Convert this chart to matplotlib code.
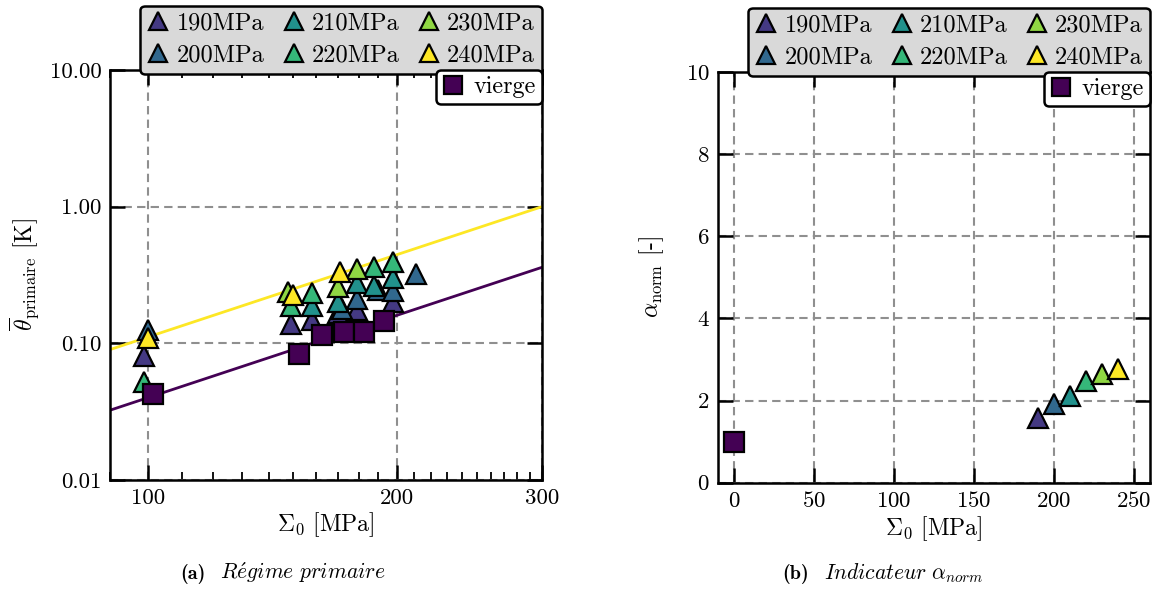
import numpy as np
import matplotlib
matplotlib.use("Agg")
import matplotlib.pyplot as plt
from matplotlib.ticker import FixedLocator, FixedFormatter, NullFormatter, NullLocator
from matplotlib.lines import Line2D

plt.rcParams['font.family'] = ['cmr10', 'DejaVu Serif']
plt.rcParams['mathtext.fontset'] = 'cm'
plt.rcParams['axes.formatter.use_mathtext'] = True
plt.rcParams['axes.unicode_minus'] = False

# ---------------- data ----------------
series_labels = ['190MPa', '200MPa', '210MPa', '220MPa', '230MPa', '240MPa']
series_colors = ['#443983', '#31688e', '#21918c', '#35b779', '#90d743', '#fde725']
vierge_color = '#440154'

# (a) Regime primaire : Sigma_0 [MPa] and theta_primaire [K] per series
s190_x = [99, 149, 158, 170, 179, 198]
s190_y = [0.081, 0.139, 0.147, 0.166, 0.176, 0.202]
s200_x = [100, 172, 179, 190, 198, 211]
s200_y = [0.125, 0.177, 0.211, 0.245, 0.242, 0.321]
s210_x = [158, 170, 179, 188, 198]
s210_y = [0.186, 0.202, 0.275, 0.264, 0.299]
s220_x = [99, 149, 158, 188, 198]
s220_y = [0.052, 0.188, 0.235, 0.364, 0.396]
s230_x = [148, 170, 179]
s230_y = [0.239, 0.260, 0.352]
s240_x = [100, 150, 171]
s240_y = [0.110, 0.226, 0.335]
vierge_x = [101.5, 152.4, 162.7, 172.6, 182.9, 193.1]
vierge_y = [0.0427, 0.0837, 0.115, 0.1204, 0.122, 0.1466]

# power-law fits theta = a * (Sigma/300)^b
fit_240 = (1.00, 2.0)
fit_vierge = (0.36, 2.0)

# (b) Indicateur alpha_norm
alpha_sigma = [190, 200, 210, 220, 230, 240]
alpha_vals = [1.58, 1.91, 2.10, 2.48, 2.64, 2.76]
alpha_vierge_sigma = [0]
alpha_vierge = [1.0]

series_x = [s190_x, s200_x, s210_x, s220_x, s230_x, s240_x]
series_y = [s190_y, s200_y, s210_y, s220_y, s230_y, s240_y]

# ---------------- figure ----------------
W, H = 1157, 590
fig = plt.figure(figsize=(W / 100, H / 100), dpi=100)
axL = fig.add_axes([110 / W, (H - 480) / H, 432 / W, 410 / H])
axR = fig.add_axes([718 / W, (H - 482.7) / H, 432 / W, 410.7 / H])

FS = 16.5
LFS = 17.5
MS = 15
MEW = 1.6
grid_kw = dict(color='#8f8f8f', linestyle=(0, (4, 2.5)), linewidth=1.5)

def style_axes(ax):
    for sp in ax.spines.values():
        sp.set_linewidth(1.8)
    ax.tick_params(which='major', direction='in', length=11, width=1.8,
                   top=True, right=True, labelsize=FS, pad=6)
    ax.tick_params(which='minor', direction='in', length=6, width=1.3,
                   top=True, right=True)
    ax.grid(True, which='major', **grid_kw)
    ax.set_axisbelow(True)

# ---- left ----
axL.set_xscale('log')
axL.set_yscale('log')
xs = np.linspace(90, 300, 100)
a, b = fit_240
axL.plot(xs, a * (xs / 300) ** b, color=series_colors[-1], lw=2, zorder=2)
a, b = fit_vierge
axL.plot(xs, a * (xs / 300) ** b, color=vierge_color, lw=2, zorder=2)
for x, y, c, lab in zip(series_x, series_y, series_colors, series_labels):
    axL.plot(x, y, ls='none', marker='^', ms=MS, mfc=c, mec='black', mew=MEW,
             label=lab, zorder=3)
axL.plot(vierge_x, vierge_y, ls='none', marker='s', ms=MS, mfc=vierge_color,
         mec='black', mew=MEW, zorder=4)
axL.set_xlim(90, 300)
axL.set_ylim(0.01, 10)
axL.xaxis.set_major_locator(FixedLocator([100, 200, 300]))
axL.xaxis.set_major_formatter(FixedFormatter(['100', '200', '300']))
axL.xaxis.set_minor_locator(FixedLocator([v for v in range(90, 300, 10) if v not in (100, 200)]))
axL.xaxis.set_minor_formatter(NullFormatter())
axL.yaxis.set_major_locator(FixedLocator([0.01, 0.1, 1, 10]))
axL.yaxis.set_major_formatter(FixedFormatter(['0.01', '0.10', '1.00', '10.00']))
axL.yaxis.set_minor_locator(NullLocator())
style_axes(axL)
axL.set_xlabel(r'$\Sigma_0$ [MPa]', fontsize=FS + 0.5, labelpad=2)
axL.set_ylabel(r'$\overline{\theta}_{\mathrm{primaire}}$ [K]', fontsize=FS + 0.5, labelpad=6)

# ---- right ----
for x, y, c, lab in zip(alpha_sigma, alpha_vals, series_colors, series_labels):
    axR.plot([x], [y], ls='none', marker='^', ms=MS, mfc=c, mec='black', mew=MEW,
             label=lab, zorder=3)
axR.plot(alpha_vierge_sigma, alpha_vierge, ls='none', marker='s', ms=MS,
         mfc=vierge_color, mec='black', mew=MEW, zorder=4)
axR.set_xlim(-10, 260)
axR.set_ylim(0, 10)
axR.set_xticks([0, 50, 100, 150, 200, 250])
axR.set_yticks([0, 2, 4, 6, 8, 10])
style_axes(axR)
axR.set_xlabel(r'$\Sigma_0$ [MPa]', fontsize=FS + 0.5, labelpad=2)
axR.set_ylabel(r'$\alpha_{\mathrm{norm}}$ [-]', fontsize=FS + 0.5, labelpad=14)

# ---- legends ----
vierge_handle = Line2D([], [], ls='none', marker='s', ms=MS, mfc=vierge_color,
                       mec='black', mew=MEW)
for ax in (axL, axR):
    leg = ax.legend(loc='lower right', bbox_to_anchor=(1.0, 0.99), ncol=3,
                    fontsize=LFS, frameon=True, fancybox=True, framealpha=1,
                    facecolor='#d9d9d9', edgecolor='black', handlelength=0.9,
                    handletextpad=0.3, columnspacing=0.75, borderpad=0.3,
                    labelspacing=0.4, borderaxespad=0.0, markerscale=0.85)
    leg.get_frame().set_linewidth(1.8)
    leg.set_zorder(10)
    ax.add_artist(leg)
    leg2 = ax.legend([vierge_handle], ['vierge'], loc='upper right', fontsize=LFS,
                     frameon=True, fancybox=True, framealpha=1, facecolor='white',
                     edgecolor='black', handlelength=0.9, handletextpad=0.4,
                     borderpad=0.25, borderaxespad=0.0, markerscale=0.85)
    leg2.get_frame().set_linewidth(1.8)
    leg2.set_zorder(10)

# ---- captions ----
cap_y = 11 / H
CFS = 15.5
fig.text(180 / W, cap_y, '(a)', fontfamily='cmb10', fontsize=CFS - 1,
         ha='left', va='baseline')
fig.text(220 / W, cap_y, r'$\mathit{R\acute{e}gime\ primaire}$', fontsize=CFS,
         ha='left', va='baseline')
fig.text(782 / W, cap_y, '(b)', fontfamily='cmb10', fontsize=CFS - 1,
         ha='left', va='baseline')
fig.text(824 / W, cap_y, r'$\mathit{Indicateur}\ \alpha_{norm}$', fontsize=CFS,
         ha='left', va='baseline')

fig.savefig('out.png', dpi=100)
